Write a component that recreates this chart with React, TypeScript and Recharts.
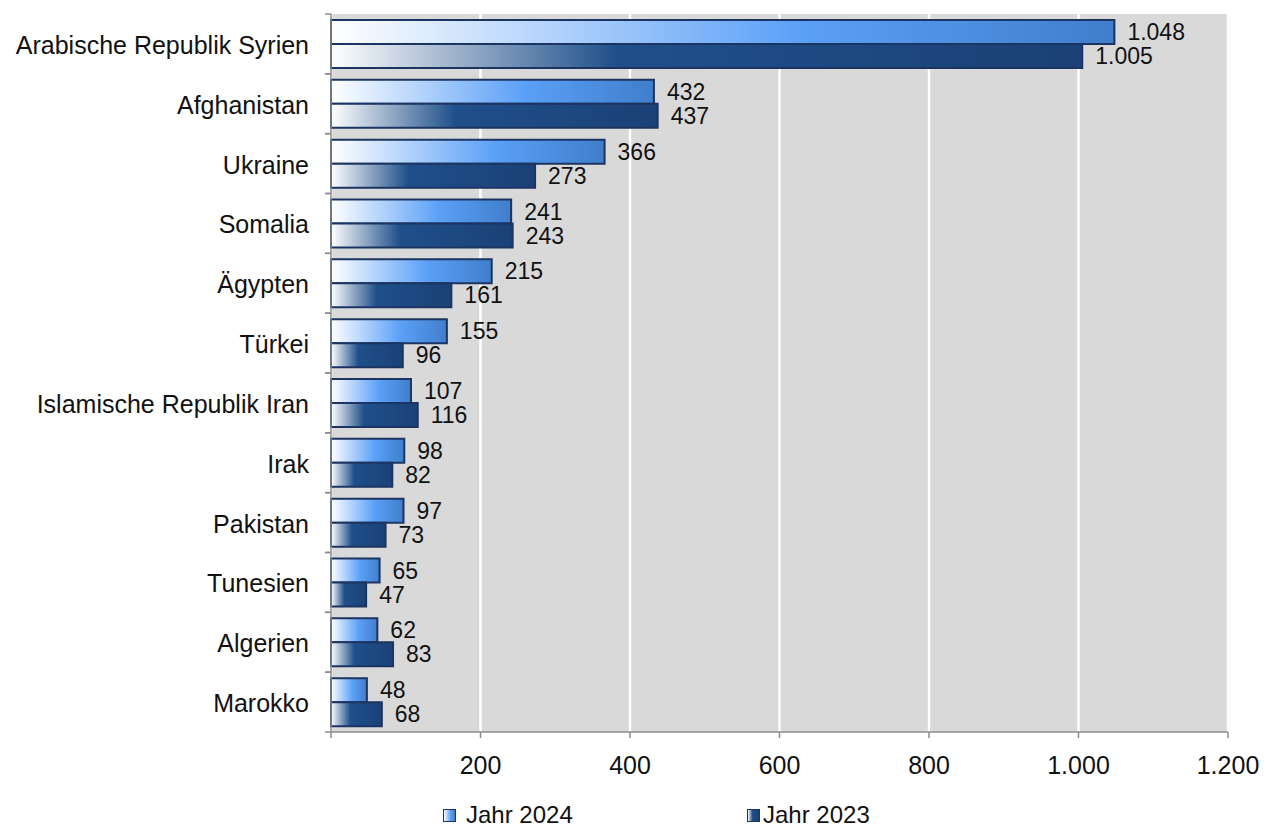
import { BarChart, Bar, XAxis, YAxis, CartesianGrid, LabelList } from 'recharts';

const countries = [
  'Arabische Republik Syrien',
  'Afghanistan',
  'Ukraine',
  'Somalia',
  'Ägypten',
  'Türkei',
  'Islamische Republik Iran',
  'Irak',
  'Pakistan',
  'Tunesien',
  'Algerien',
  'Marokko',
];
const values2024 = [1048, 432, 366, 241, 215, 155, 107, 98, 97, 65, 62, 48];
const values2023 = [1005, 437, 273, 243, 161, 96, 116, 82, 73, 47, 83, 68];
const xTicks = [0, 200, 400, 600, 800, 1000, 1200];

const data = countries.map((name, i) => ({
  name,
  y2024: values2024[i],
  y2023: values2023[i],
}));

const FONT = '"Liberation Sans", Arial, sans-serif';
const PLOT_TOP = 14;
const PLOT_BOTTOM = 732;
const AXIS_X = 331;
const BAND = (PLOT_BOTTOM - PLOT_TOP) / countries.length;

// German number format: 1.048
const fmt = (v: number) => String(v).replace(/\B(?=(\d{3})+(?!\d))/g, '.');

const CategoryTick = (props: any) => {
  const { y, payload } = props;
  return (
    <g>
      <line x1={AXIS_X - 6} x2={AXIS_X} y1={y - BAND / 2} y2={y - BAND / 2} stroke="#8c8c8c" strokeWidth={1.5} />
      <line x1={AXIS_X - 6} x2={AXIS_X} y1={y + BAND / 2} y2={y + BAND / 2} stroke="#8c8c8c" strokeWidth={1.5} />
      <text x={AXIS_X - 22} y={y} dy={10} textAnchor="end" fontSize={25} fill="#111" fontFamily={FONT}>
        {payload.value}
      </text>
    </g>
  );
};

const LegendBox = () => (
  <div
    style={{
      position: 'absolute',
      top: 801,
      left: 0,
      width: 1278,
      height: 28,
      fontFamily: FONT,
      fontSize: 24,
      color: '#111',
    }}
  >
    <div style={{ position: 'absolute', left: 443, top: 0, display: 'flex', alignItems: 'center', gap: 10 }}>
      <span
        style={{
          width: 11,
          height: 11,
          border: '1.5px solid #1c3461',
          background: 'linear-gradient(to right, #ffffff, #5ba0f7 60%, #3d7cc9)',
          display: 'inline-block',
        }}
      />
      <span>Jahr 2024</span>
    </div>
    <div style={{ position: 'absolute', left: 747, top: 0, display: 'flex', alignItems: 'center', gap: 3 }}>
      <span
        style={{
          width: 11,
          height: 11,
          border: '1.5px solid #1c3461',
          background: 'linear-gradient(to right, #ffffff, #1f4f8a 40%, #1a3f73)',
          display: 'inline-block',
        }}
      />
      <span>Jahr 2023</span>
    </div>
  </div>
);

export default function App() {
  return (
    <div style={{ position: 'absolute', top: 0, left: 0, width: 1278, height: 826, background: '#fff' }}>
      <BarChart
        width={1278}
        height={826}
        data={data}
        layout="vertical"
        margin={{ top: PLOT_TOP, right: 50, bottom: 0, left: 0 }}
        barCategoryGap="10%"
        barGap={0}
      >
        <defs>
          <linearGradient id="g2024" x1="0" y1="0" x2="1" y2="0">
            <stop offset="0%" stopColor="#ffffff" />
            <stop offset="60%" stopColor="#5ba0f7" />
            <stop offset="100%" stopColor="#3f7ecb" />
          </linearGradient>
          <linearGradient id="g2023" x1="0" y1="0" x2="1" y2="0">
            <stop offset="0%" stopColor="#ffffff" />
            <stop offset="38%" stopColor="#1f4f8a" />
            <stop offset="100%" stopColor="#1b4177" />
          </linearGradient>
        </defs>
        <CartesianGrid fill="#d9d9d9" stroke="#ffffff" strokeWidth={2.5} horizontal={false} verticalValues={xTicks} />
        <XAxis
          type="number"
          domain={[0, 1200]}
          ticks={xTicks}
          tickFormatter={(v: number) => (v === 0 ? '' : fmt(v))}
          axisLine={{ stroke: '#8c8c8c', strokeWidth: 1.5 }}
          tickLine={{ stroke: '#8c8c8c', strokeWidth: 1.5 }}
          tickSize={6}
          tickMargin={18}
          tick={{ fill: '#111', fontSize: 25, fontFamily: FONT }}
          height={826 - PLOT_BOTTOM}
        />
        <YAxis
          type="category"
          dataKey="name"
          width={AXIS_X}
          axisLine={{ stroke: '#8c8c8c', strokeWidth: 1.5 }}
          tickLine={false}
          tick={<CategoryTick />}
          interval={0}
        />
        <Bar dataKey="y2024" fill="url(#g2024)" stroke="#1c3461" strokeWidth={2} isAnimationActive={false}>
          <LabelList
            dataKey="y2024"
            position="right"
            offset={13}
            formatter={(v: any) => fmt(Number(v))}
            style={{ fill: '#111', fontSize: 23, fontFamily: FONT }}
          />
        </Bar>
        <Bar dataKey="y2023" fill="url(#g2023)" stroke="#1c3461" strokeWidth={2} isAnimationActive={false}>
          <LabelList
            dataKey="y2023"
            position="right"
            offset={13}
            formatter={(v: any) => fmt(Number(v))}
            style={{ fill: '#111', fontSize: 23, fontFamily: FONT }}
          />
        </Bar>
      </BarChart>
      <LegendBox />
    </div>
  );
}
